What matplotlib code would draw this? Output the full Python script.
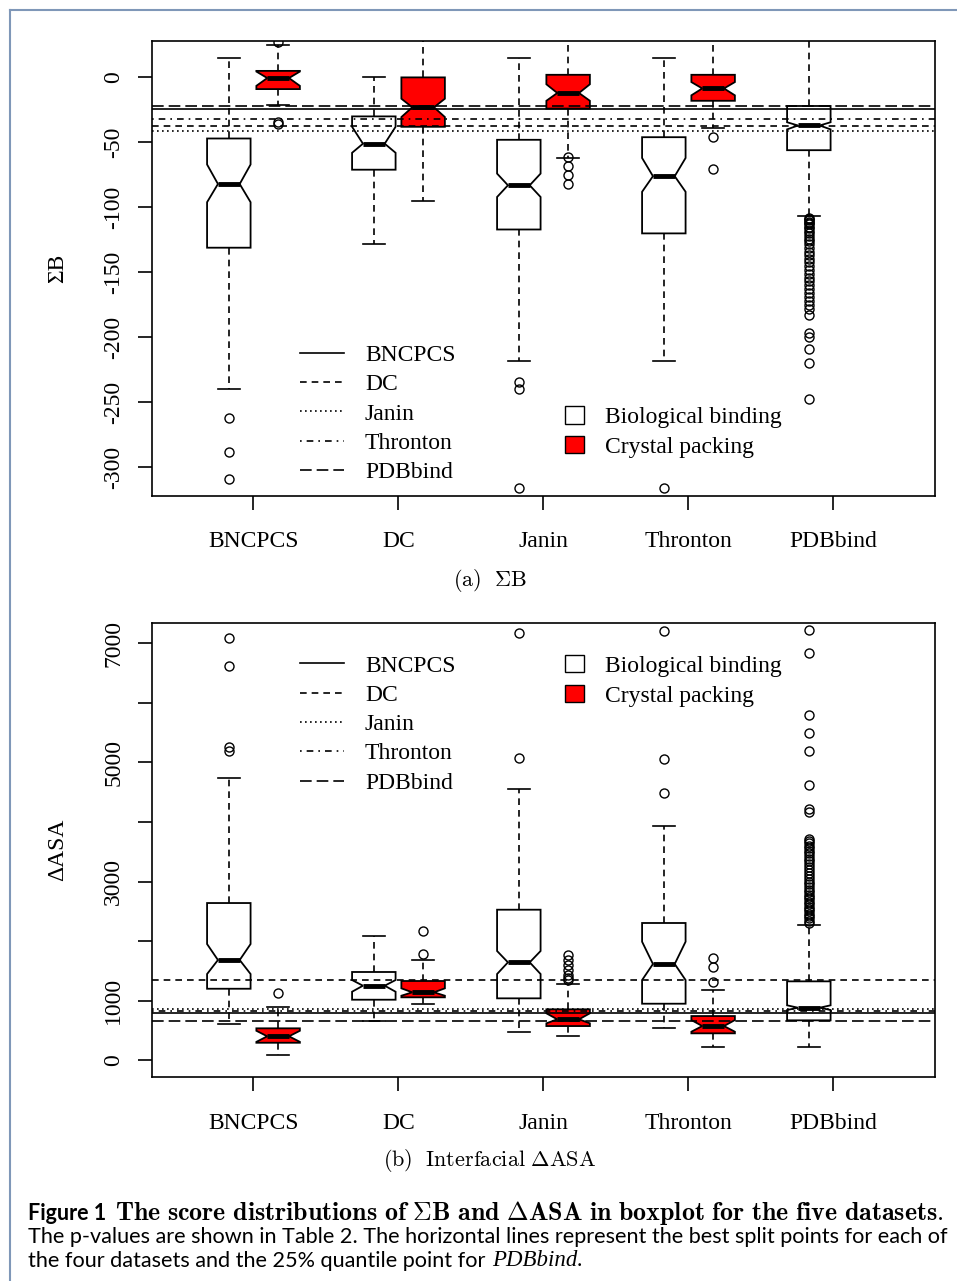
import numpy as np
import matplotlib.pyplot as plt
from matplotlib.lines import Line2D
from matplotlib.patches import Patch

plt.rcParams['font.family'] = ['Liberation Serif', 'DejaVu Serif']
plt.rcParams['mathtext.fontset'] = 'cm'

datasets = ['BNCPCS', 'DC', 'Janin', 'Thronton', 'PDBbind']

# ---- Sum B panel ----
sb_bio_med  = [-82, -51, -83, -76, -37]
sb_bio_q1   = [-131, -71, -117, -120, -56]
sb_bio_q3   = [-47, -30, -48, -46, -22]
sb_bio_lo   = [-240, -128, -218, -218, -107]
sb_bio_hi   = [15, 0, 15, 15, 45]
sb_bio_cilo = [-96, -58, -92, -88, -40]
sb_bio_cihi = [-67, -38, -74, -62, -34.5]
sb_bio_fl   = [[-262, -288, -309], [], [-234, -240, -316], [-316],
               [-108, -109, -110, -111, -112, -113, -115, -116, -118, -120, -122,
                -124, -126, -128, -131, -134, -137, -140, -142, -145, -148, -151,
                -154, -157, -160, -163, -166, -169, -172, -175, -178, -183,
                -197, -200, -209, -220, -247]]

sb_cp_med  = [-0.5, -23, -12, -8.5]
sb_cp_q1   = [-9, -38, -24, -18]
sb_cp_q3   = [5, 0, 2, 2]
sb_cp_lo   = [-21.5, -95, -62, -39]
sb_cp_hi   = [25, 45, 45, 45]
sb_cp_cilo = [-6.5, -30.5, -18, -13.8]
sb_cp_cihi = [4.5, -16.4, -5.3, -3.6]
sb_cp_fl   = [[27, -34, -36], [], [-61, -68, -75, -82], [-46, -70.5]]

sb_split = [-24.4, -37.7, -41.5, -32, -22]

# ---- Delta ASA panel ----
as_bio_med  = [1683, 1252, 1644, 1616, 883]
as_bio_q1   = [1201, 1017, 1040, 950, 671]
as_bio_q3   = [2639, 1482, 2527, 2304, 1325]
as_bio_lo   = [609, 659, 480, 547, 223]
as_bio_hi   = [4731, 2086, 4552, 3937, 2270]
as_bio_cilo = [1448, 1151, 1448, 1347, 844]
as_bio_cihi = [1951, 1347, 1834, 1990, 923]
as_bio_fl   = [[7080, 6621, 5262, 5195], [], [7164, 5067], [7208, 5055, 4480],
               [7220, 6839, 5794, 5487, 5190, 4619, 4210, 4170,
                3720, 3680, 3640, 3600, 3560, 3520, 3470, 3420, 3380, 3340, 3290,
                3240, 3200, 3150, 3100, 3050, 3000, 2950, 2900, 2860, 2820, 2780,
                2740, 2700, 2660, 2620, 2580, 2540, 2500, 2460, 2420, 2380, 2340, 2300]]

as_cp_med  = [403, 1141, 688, 575]
as_cp_q1   = [295, 1057, 575, 453]
as_cp_q3   = [537, 1331, 856, 743]
as_cp_lo   = [89, 940, 413, 223]
as_cp_hi   = [899, 1678, 1280, 1180]
as_cp_cilo = [310, 1084, 621, 480]
as_cp_cihi = [496, 1208, 789, 676]
as_cp_fl   = [[1124], [2175, 1789], [1767, 1683, 1599, 1515, 1431, 1376, 1347],
              [1711, 1560, 1319]]

as_split = [799, 1345, 856, 827, 668]

split_styles = ['-', (0, (4, 3)), (0, (1, 2)), (0, (1, 3, 4, 3)), (0, (7, 3))]

FS = 17


def make_stats(med, q1, q3, lo, hi, cilo, cihi, fl):
    return [dict(med=m, q1=a, q3=b, whislo=l, whishi=h, cilo=c1, cihi=c2, fliers=f)
            for m, a, b, l, h, c1, c2, f in zip(med, q1, q3, lo, hi, cilo, cihi, fl)]


def draw_boxes(ax, stats, pos, color):
    ax.bxp(stats, positions=pos, widths=0.3, shownotches=True, patch_artist=True,
           boxprops=dict(facecolor=color, edgecolor='black', linewidth=1.3),
           whiskerprops=dict(color='black', linewidth=1.2, linestyle=(0, (4, 3))),
           capprops=dict(color='black', linewidth=1.2),
           medianprops=dict(color='black', linewidth=3.5),
           flierprops=dict(marker='o', markerfacecolor='none', markeredgecolor='black',
                           markersize=6.5, markeredgewidth=1.0))


def panel(ax, bio, cp, splits, ylim, yticks, ylabels, ylabel, leg_y):
    x = np.arange(1, 6)
    draw_boxes(ax, bio, x - 0.17, 'white')
    draw_boxes(ax, cp, x[:4] + 0.17, '#ff0000')
    for v, s in zip(splits, split_styles):
        ax.axhline(v, color='black', linewidth=1.2, linestyle=s, zorder=5)
    ax.set_xlim(0.3, 5.7)
    ax.set_ylim(*ylim)
    ax.set_xticks(x, datasets)
    ax.set_yticks(yticks, ylabels)
    ax.tick_params(direction='out', length=10, width=1.2, labelsize=FS)
    ax.tick_params(axis='x', pad=15.5)
    ax.tick_params(axis='y', labelrotation=90, pad=10)
    for lb in ax.get_yticklabels():
        lb.set_va('center')
    for sp in ax.spines.values():
        sp.set_linewidth(1.2)
    ax.set_ylabel(ylabel, fontsize=FS)
    ax.yaxis.set_label_coords(-0.107, 0.5)

    h_lines = [Line2D([], [], color='black', linewidth=1.2, linestyle=s) for s in split_styles]
    leg1 = ax.legend(h_lines, datasets, loc='upper left', bbox_to_anchor=(0.189, leg_y),
                     frameon=False, fontsize=FS, handlelength=1.85, handletextpad=0.9,
                     labelspacing=0.33, borderpad=0, borderaxespad=0)
    ax.add_artist(leg1)
    return leg1


fig = plt.figure(figsize=(9.57, 12.81), dpi=100)
ax1 = fig.add_axes([0.1588, 0.6128, 0.8182, 0.3552])
ax2 = fig.add_axes([0.1588, 0.1590, 0.8182, 0.3549])

panel(ax1, make_stats(sb_bio_med, sb_bio_q1, sb_bio_q3, sb_bio_lo, sb_bio_hi,
                      sb_bio_cilo, sb_bio_cihi, sb_bio_fl),
      make_stats(sb_cp_med, sb_cp_q1, sb_cp_q3, sb_cp_lo, sb_cp_hi,
                 sb_cp_cilo, sb_cp_cihi, sb_cp_fl),
      sb_split, (-322, 28), list(range(-300, 1, 50)),
      [str(v) for v in range(-300, 1, 50)], '\u03a3B', 0.333)

panel(ax2, make_stats(as_bio_med, as_bio_q1, as_bio_q3, as_bio_lo, as_bio_hi,
                      as_bio_cilo, as_bio_cihi, as_bio_fl),
      make_stats(as_cp_med, as_cp_q1, as_cp_q3, as_cp_lo, as_cp_hi,
                 as_cp_cilo, as_cp_cihi, as_cp_fl),
      as_split, (-285, 7342), list(range(0, 7001, 1000)),
      ['0', '1000', '', '3000', '', '5000', '', '7000'], '\u0394ASA', 0.929)

box_handles = [Patch(facecolor='white', edgecolor='black', linewidth=1.0),
               Patch(facecolor='#ff0000', edgecolor='black', linewidth=1.0)]
for ax, ly in [(ax1, 0.197), (ax2, 0.929)]:
    ax.legend(box_handles, ['Biological binding', 'Crystal packing'], loc='upper left',
              bbox_to_anchor=(0.5275, ly), frameon=False, fontsize=FS,
              handlelength=0.8, handleheight=0.75, handletextpad=0.9,
              labelspacing=0.33, borderpad=0, borderaxespad=0)

fig.text(490 / 957, 1 - 580 / 1281, r'$\mathrm{(a)}\ \ \Sigma\mathrm{B}$',
         ha='center', va='center', fontsize=16)
fig.text(490 / 957, 1 - 1161 / 1281, r'$\mathrm{(b)}\ \ \mathrm{Interfacial}\ \Delta\mathrm{ASA}$',
         ha='center', va='center', fontsize=16)

t1 = fig.text(28 / 957, 1 - 1213 / 1281, 'Figure 1', family='Lato', weight='bold',
              fontsize=15.5, va='center')
bold = 'The score distributions of \\Sigma{}B and \\Delta{}ASA in boxplot for the five datasets.'
ax2.annotate('$\\mathbf{' + bold.replace(' ', '\\ ') + '}$', xy=(1, 0.5), xycoords=t1,
             xytext=(6, 0), textcoords='offset points', va='center', ha='left', fontsize=18.7)
fig.text(28 / 957, 1 - 1237 / 1281,
         'The p-values are shown in Table 2. The horizontal lines represent the best split points for each of',
         family='Lato', fontsize=15.6, va='center')
t3 = fig.text(28 / 957, 1 - 1261 / 1281, 'the four datasets and the 25% quantile point for',
              family='Lato', fontsize=15.6, va='center')
ax2.annotate('PDBbind.', xy=(1, 0.5), xycoords=t3, xytext=(5, 0), textcoords='offset points',
             va='center', ha='left', fontsize=16.5, style='italic')

fig.add_artist(Line2D([10 / 957, 10 / 957], [0, 1 - 10 / 1281], transform=fig.transFigure,
                      color='#7f97b8', linewidth=1.5))
fig.add_artist(Line2D([10 / 957, 1], [1 - 10 / 1281, 1 - 10 / 1281], transform=fig.transFigure,
                      color='#7f97b8', linewidth=1.5))

fig.savefig('out.png', dpi=100)
